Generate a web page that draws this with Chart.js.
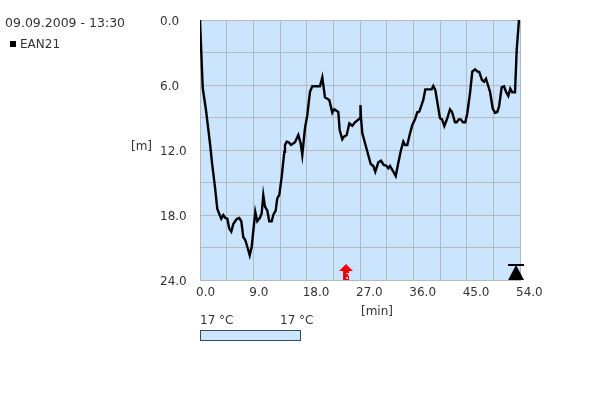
<!DOCTYPE html>
<html>
<head>
<meta charset="utf-8">
<style>
html, body { margin: 0; padding: 0; background: #fff; }
#wrap { position: relative; width: 600px; height: 400px; }
</style>
<script src="https://cdn.jsdelivr.net/npm/chart.js@4"></script>
</head>
<body>
<div id="wrap"><canvas id="diveChart" width="600" height="400"></canvas></div>
<script>
// Dive profile
const diveTime = [0, 0.46, 1.01, 1.52, 1.81, 2.03, 2.53, 2.92, 3.26, 3.59, 3.93, 4.27, 4.61, 4.94, 5.28, 5.62, 6.19, 6.63, 6.97, 7.31, 7.64, 7.98, 8.39, 8.72, 9.33, 9.67, 10.13, 10.41, 10.68, 10.97, 11.36, 11.69, 12.10, 12.37, 12.77, 13.04, 13.38, 13.79, 14.23, 14.34, 14.63, 14.97, 15.36, 16.03, 16.59, 16.99, 17.26, 17.72, 18.11, 18.56, 18.95, 20.25, 20.64, 21.09, 21.82, 22.33, 22.66, 23.34, 23.57, 24.01, 24.30, 24.76, 25.20, 25.70, 26.16, 27.0, 27.08, 27.17, 27.39, 27.84, 28.30, 28.81, 29.25, 29.58, 30.09, 30.54, 31.0, 31.44, 31.78, 32.06, 32.62, 33.03, 33.46, 33.92, 34.31, 34.59, 34.98, 35.44, 35.83, 36.28, 36.67, 37.01, 37.68, 38.02, 39.10, 39.37, 39.71, 40.5, 40.84, 41.23, 41.73, 42.19, 42.53, 43.03, 43.32, 43.66, 43.99, 44.38, 44.77, 45.11, 45.56, 45.95, 46.41, 46.79, 47.13, 47.59, 47.93, 48.26, 48.94, 49.39, 49.78, 50.17, 50.46, 50.91, 51.30, 51.64, 52.03, 52.36, 52.70, 53.16, 53.44, 53.83];
const diveDepth = [0, 6.28, 8.31, 10.62, 12.0, 13.2, 15.42, 17.45, 17.91, 18.34, 18.0, 18.28, 18.34, 19.26, 19.54, 18.83, 18.37, 18.28, 18.58, 20.06, 20.31, 20.93, 21.72, 20.93, 17.72, 18.58, 18.25, 17.84, 16.15, 17.23, 17.6, 18.58, 18.58, 18.0, 17.6, 16.46, 16.15, 14.46, 12.16, 11.54, 11.23, 11.29, 11.54, 11.29, 10.62, 11.38, 12.46, 9.97, 8.77, 6.62, 6.12, 6.12, 5.29, 7.14, 7.38, 8.56, 8.24, 8.49, 10.15, 11.01, 10.77, 10.62, 9.54, 9.76, 9.44, 9.07, 7.85, 9.05, 10.43, 11.35, 12.28, 13.29, 13.48, 14.0, 13.14, 12.99, 13.38, 13.45, 13.69, 13.48, 14.0, 14.4, 13.2, 12.0, 11.23, 11.54, 11.54, 10.46, 9.69, 9.17, 8.52, 8.46, 7.38, 6.4, 6.4, 6.09, 6.46, 9.07, 9.17, 9.78, 9.07, 8.24, 8.49, 9.44, 9.44, 9.17, 9.17, 9.44, 9.44, 8.61, 6.77, 4.77, 4.55, 4.74, 4.8, 5.54, 5.7, 5.42, 6.62, 8.15, 8.56, 8.49, 8.0, 6.21, 6.12, 6.62, 7.02, 6.34, 6.67, 6.67, 2.77, 0];

// Tick labels, every second grid line is unlabelled
const timeTicks = ['0.0', '', '9.0', '', '18.0', '', '27.0', '', '36.0', '', '45.0', '', '54.0'];
const depthTicks = ['0.0', '', '6.0', '', '12.0', '', '18.0', '', '24.0'];

// Event markers on the profile
const gasChangeTime = [24.64];
const gasChangeDepth = [23.26];
const surfaceTime = [53.33];
const surfaceDepth = [23.26];

const textColor = '#333';
const gridColor = '#b3bac2';
const waterColor = '#cce5ff';
const fontName = "'DejaVu Sans', sans-serif";

function makeRedArrow() {
    const c = document.createElement('canvas');
    c.width = 16;
    c.height = 16;
    const g = c.getContext('2d');
    g.fillStyle = '#f00000';
    g.beginPath();
    g.moveTo(8, 0);
    g.lineTo(15, 7);
    g.lineTo(11, 7);
    g.lineTo(11, 16);
    g.lineTo(5, 16);
    g.lineTo(5, 7);
    g.lineTo(1, 7);
    g.closePath();
    g.fill();
    // little notch pattern at the foot of the arrow
    g.fillStyle = '#f7c9c9';
    g.fillRect(8, 9, 4, 1);
    g.fillRect(10, 10, 2, 2);
    g.fillRect(8, 13, 2, 2);
    return c;
}

function makeBlackMark() {
    const c = document.createElement('canvas');
    c.width = 18;
    c.height = 16;
    const g = c.getContext('2d');
    g.fillStyle = '#000';
    g.fillRect(1, 0, 16, 2);
    g.beginPath();
    g.moveTo(9, 1);
    g.lineTo(17, 16);
    g.lineTo(1, 16);
    g.closePath();
    g.fill();
    return c;
}

// Plot background, and the texts the axes do not place by themselves
const decorPlugin = {
    id: 'decor',
    beforeDatasetsDraw(chart) {
        const a = chart.chartArea;
        const ctx = chart.ctx;
        ctx.save();
        ctx.globalCompositeOperation = 'destination-over';
        ctx.fillStyle = waterColor;
        ctx.fillRect(a.left, a.top, a.width, a.height);
        ctx.restore();
    },
    afterDraw(chart) {
        const ctx = chart.ctx;
        ctx.save();
        ctx.fillStyle = textColor;
        ctx.font = '12.5px ' + fontName;
        ctx.textBaseline = 'middle';
        ctx.fillText('09.09.2009 - 13:30', 5, 24);
        ctx.font = '12px ' + fontName;
        ctx.fillText('EAN21', 20, 45);
        ctx.fillText('[m]', 131, 147);
        ctx.fillText('[min]', 361, 312);
        ctx.fillText('17 °C', 200, 321);
        ctx.fillText('17 °C', 280, 321);
        ctx.fillStyle = '#000';
        ctx.fillRect(10, 41, 6, 6);
        ctx.fillStyle = waterColor;
        ctx.strokeStyle = '#34495e';
        ctx.fillRect(200, 330, 100, 10);
        ctx.strokeRect(200.5, 330.5, 100, 10);
        ctx.restore();
    }
};

new Chart(document.getElementById('diveChart').getContext('2d'), {
    type: 'scatter',
    data: {
        datasets: [
            {
                label: 'EAN21',
                data: diveTime.map((t, i) => ({ x: t, y: diveDepth[i] })),
                showLine: true,
                borderColor: '#000',
                borderWidth: 2.4,
                pointRadius: 0,
                tension: 0
            },
            {
                label: 'gas change',
                data: gasChangeTime.map((t, i) => ({ x: t, y: gasChangeDepth[i] })),
                pointStyle: makeRedArrow(),
                clip: false
            },
            {
                label: 'surface',
                data: surfaceTime.map((t, i) => ({ x: t, y: surfaceDepth[i] })),
                pointStyle: makeBlackMark(),
                clip: false
            }
        ]
    },
    options: {
        responsive: false,
        animation: false,
        // the left padding makes the depth labels start at x=160
        layout: { padding: { top: 20, right: 80, left: 160 } },
        plugins: {
            legend: { display: false },
            tooltip: { enabled: false }
        },
        scales: {
            x: {
                type: 'linear',
                min: 0,
                max: 54,
                afterFit: scale => {
                    scale.height = 120;
                    scale.paddingLeft = 0;
                    scale.paddingRight = 0;
                },
                grid: { color: gridColor, drawTicks: false },
                border: { color: gridColor },
                ticks: {
                    stepSize: 4.5,
                    autoSkip: false,
                    maxRotation: 0,
                    align: 'start',
                    labelOffset: -4,
                    padding: 6,
                    color: textColor,
                    font: { family: fontName, size: 12 },
                    callback: (value, index) => timeTicks[index]
                }
            },
            y: {
                type: 'linear',
                reverse: true,
                min: 0,
                max: 24,
                afterFit: scale => {
                    scale.width = 40;
                    scale.paddingTop = 0;
                    scale.paddingBottom = 0;
                },
                grid: { color: gridColor, drawTicks: false },
                border: { color: gridColor },
                ticks: {
                    stepSize: 3,
                    autoSkip: false,
                    crossAlign: 'far',
                    labelOffset: 2,
                    color: textColor,
                    font: { family: fontName, size: 12 },
                    callback: value => depthTicks[value / 3]
                }
            }
        }
    },
    plugins: [decorPlugin]
});
</script>
</body>
</html>
